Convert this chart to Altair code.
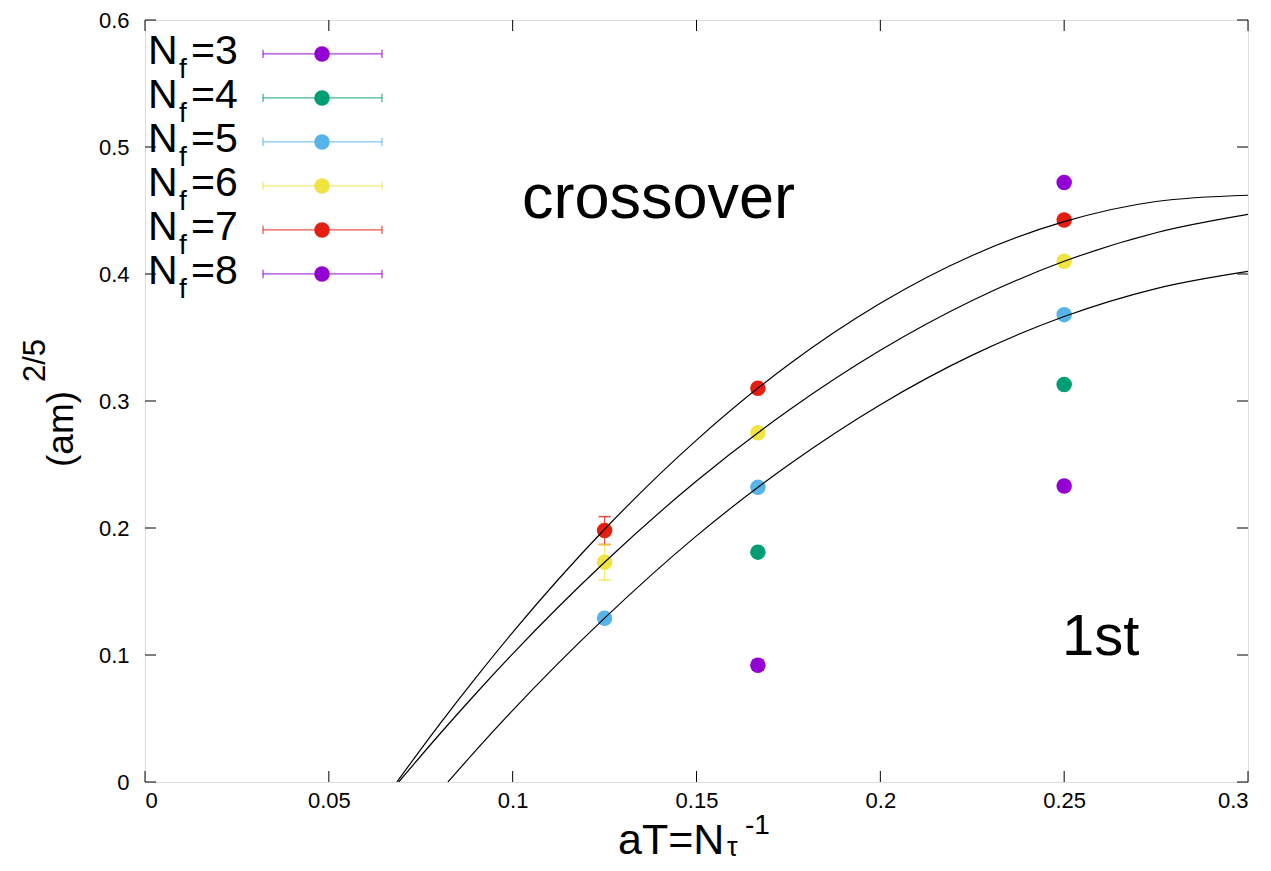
import altair as alt
import pandas as pd

# ---------------- data ----------------
nf_labels = ["3", "4", "5", "6", "7", "8"]
nf_colors = ["#9400d3", "#009e73", "#56b4e9", "#f0e442", "#e51e10", "#9400d3"]

x_nf3 = [0.1667, 0.25]
y_nf3 = [0.092, 0.233]
e_nf3 = [0.004, 0.002]

x_nf4 = [0.1667, 0.25]
y_nf4 = [0.181, 0.313]
e_nf4 = [0.002, 0.002]

x_nf5 = [0.125, 0.1667, 0.25]
y_nf5 = [0.129, 0.232, 0.368]
e_nf5 = [0.003, 0.002, 0.002]

x_nf6 = [0.125, 0.1667, 0.25]
y_nf6 = [0.173, 0.275, 0.410]
e_nf6 = [0.014, 0.003, 0.002]

x_nf7 = [0.125, 0.1667, 0.25]
y_nf7 = [0.198, 0.310, 0.4425]
e_nf7 = [0.011, 0.003, 0.002]

x_nf8 = [0.25]
y_nf8 = [0.472]
e_nf8 = [0.002]

# fit curves
fit_x_nf5 = [0.0824, 0.09, 0.1, 0.125, 0.15, 0.175, 0.2, 0.225, 0.25, 0.275, 0.3]
fit_y_nf5 = [0.0, 0.0249, 0.0564, 0.129, 0.1938, 0.2496, 0.2971, 0.3361, 0.3665, 0.3885, 0.402]
fit_x_nf6 = [0.069, 0.08, 0.09, 0.1, 0.125, 0.15, 0.175, 0.2, 0.225, 0.25, 0.275, 0.3]
fit_y_nf6 = [0.0, 0.0372, 0.0697, 0.1009, 0.173, 0.237, 0.2925, 0.3399, 0.3791, 0.410, 0.4325, 0.4469]
fit_x_nf7 = [0.0685, 0.08, 0.09, 0.1, 0.125, 0.15, 0.175, 0.2, 0.225, 0.25, 0.275, 0.3]
fit_y_nf7 = [0.0, 0.045, 0.0822, 0.1178, 0.199, 0.2692, 0.3286, 0.377, 0.4146, 0.4412, 0.4571, 0.462]

x_ticks = [0, 0.05, 0.1, 0.15, 0.2, 0.25, 0.3]
y_ticks = [0, 0.1, 0.2, 0.3, 0.4, 0.5, 0.6]

# ---------------- tables ----------------
series = [
    (x_nf3, y_nf3, e_nf3), (x_nf4, y_nf4, e_nf4), (x_nf5, y_nf5, e_nf5),
    (x_nf6, y_nf6, e_nf6), (x_nf7, y_nf7, e_nf7), (x_nf8, y_nf8, e_nf8),
]
rows = []
for lab, col, (xs_, ys_, es_) in zip(nf_labels, nf_colors, series):
    for xv, yv, ev in zip(xs_, ys_, es_):
        rows.append({"nf": lab, "color": col, "x": xv, "y": yv,
                     "lo": yv - ev, "hi": yv + ev})
pts = pd.DataFrame(rows)

fit_rows = []
for name, fx, fy in [("5", fit_x_nf5, fit_y_nf5), ("6", fit_x_nf6, fit_y_nf6),
                     ("7", fit_x_nf7, fit_y_nf7)]:
    for xv, yv in zip(fx, fy):
        fit_rows.append({"curve": name, "x": xv, "y": yv})
fits = pd.DataFrame(fit_rows)

leg = pd.DataFrame({"row": list(range(len(nf_labels))), "nf": nf_labels,
                    "color": nf_colors,
                    "eq": ["=" + s for s in nf_labels]})

xt = pd.DataFrame({"v": x_ticks})
yt = pd.DataFrame({"v": y_ticks})

# ---------------- chart ----------------
W, H = 1103, 762
FONT = "Liberation Sans"
xs = alt.Scale(domain=[0, 0.3], nice=False, zero=False)
ys = alt.Scale(domain=[0, 0.6], nice=False, zero=False)
ax_x = alt.Axis(values=x_ticks, format="~g", ticks=False, domain=False, grid=False,
                labelFont=FONT, labelFontSize=22, labelColor="black",
                labelPadding=8, title=None)
ax_y = alt.Axis(values=y_ticks, format="~g", ticks=False, domain=False, grid=False,
                labelFont=FONT, labelFontSize=22, labelColor="black",
                labelPadding=16, title=None)


def X(f):
    return alt.X(f, scale=xs, axis=ax_x)


def Y(f):
    return alt.Y(f, scale=ys, axis=ax_y)


col = alt.Color("color:N", scale=None)

ticks_b = alt.Chart(xt).mark_rule(color="black", strokeWidth=1).encode(
    x=X("v:Q"), y=alt.value(H), y2=alt.value(H - 11))
ticks_t = alt.Chart(xt).mark_rule(color="black", strokeWidth=1).encode(
    x=X("v:Q"), y=alt.value(0), y2=alt.value(11))
ticks_l = alt.Chart(yt).mark_rule(color="black", strokeWidth=1).encode(
    y=Y("v:Q"), x=alt.value(0), x2=alt.value(11))
ticks_r = alt.Chart(yt).mark_rule(color="black", strokeWidth=1).encode(
    y=Y("v:Q"), x=alt.value(W), x2=alt.value(W - 11))

err = alt.Chart(pts).mark_rule(strokeWidth=1.2, opacity=0.8).encode(
    x=X("x:Q"), y=Y("lo:Q"), y2="hi:Q", color=col)
cap_lo = alt.Chart(pts).mark_rule(strokeWidth=1.5, opacity=0.8, xOffset=-6, x2Offset=6).encode(
    x=X("x:Q"), x2="x:Q", y=Y("lo:Q"), color=col)
cap_hi = alt.Chart(pts).mark_rule(strokeWidth=1.5, opacity=0.8, xOffset=-6, x2Offset=6).encode(
    x=X("x:Q"), x2="x:Q", y=Y("hi:Q"), color=col)
dots = alt.Chart(pts).mark_circle(size=240, opacity=1).encode(
    x=X("x:Q"), y=Y("y:Q"), color=col)

curves = alt.Chart(fits).mark_line(color="black", strokeWidth=1.2,
                                   interpolate="monotone", clip=True).encode(
    x=X("x:Q"), y=Y("y:Q"), detail="curve:N")

# legend (gnuplot style, inside the frame)
legb = alt.Chart(leg).transform_calculate(
    ly="0.5733 - 0.03465 * datum.row",
    ly_t="0.5733 - 0.03465 * datum.row + 0.0033",
    ly_b="0.5733 - 0.03465 * datum.row - 0.0033",
)
leg_line = legb.mark_rule(strokeWidth=1.3, opacity=0.75).encode(
    x=alt.value(118), x2=alt.value(237), y=Y("ly:Q"), color=col)
leg_cap1 = legb.mark_rule(strokeWidth=1.3, opacity=0.75).encode(
    x=alt.value(118), y=Y("ly_t:Q"), y2="ly_b:Q", color=col)
leg_cap2 = legb.mark_rule(strokeWidth=1.3, opacity=0.75).encode(
    x=alt.value(237), y=Y("ly_t:Q"), y2="ly_b:Q", color=col)
leg_dot = legb.mark_circle(size=240, opacity=1).encode(
    x=alt.value(177), y=Y("ly:Q"), color=col)
leg_N = legb.mark_text(text="N", font=FONT, fontSize=41, align="left",
                       baseline="alphabetic", dy=10, color="black").encode(
    x=alt.value(3), y=Y("ly:Q"))
leg_f = legb.mark_text(text="f", font=FONT, fontSize=28, align="left",
                       baseline="alphabetic", dy=24, color="black").encode(
    x=alt.value(34), y=Y("ly:Q"))
leg_eq = legb.mark_text(font=FONT, fontSize=41, align="left",
                        baseline="alphabetic", dy=10, color="black").encode(
    x=alt.value(46), y=Y("ly:Q"), text="eq:N")

# annotations and axis titles
def label(txt, x, y, size, angle=0):
    return alt.Chart(pd.DataFrame({"t": [txt]})).mark_text(
        font=FONT, fontSize=size, align="left", baseline="alphabetic",
        angle=angle, color="black").encode(
        x=alt.value(x), y=alt.value(y), text="t:N")

t_cross = label("crossover", 377, 198, 63)
t_first = label("1st", 917, 635, 58)
xt_main = label("aT=N", 473, 834, 43)
xt_sub = label("τ", 582, 836, 27)
xt_sup = label("-1", 600, 814, 28)
yt_main = label("(am)", -72, 447, 37, angle=270)
yt_sup = label("2/5", -100, 362, 31, angle=270)

chart = alt.layer(
    ticks_b, ticks_t, ticks_l, ticks_r,
    err, cap_lo, cap_hi, dots, curves,
    leg_line, leg_cap1, leg_cap2, leg_dot, leg_N, leg_f, leg_eq,
    t_cross, t_first, xt_main, xt_sub, xt_sup, yt_main, yt_sup,
).properties(
    width=W, height=H,
    autosize=alt.AutoSizeParams(type="none"),
    padding={"left": 137, "top": 12, "right": 15, "bottom": 81},
).configure_view(
    stroke="black", strokeWidth=1.5
).configure(background="white")

chart.save("out.html", embed_options={"renderer": "svg", "actions": False})
